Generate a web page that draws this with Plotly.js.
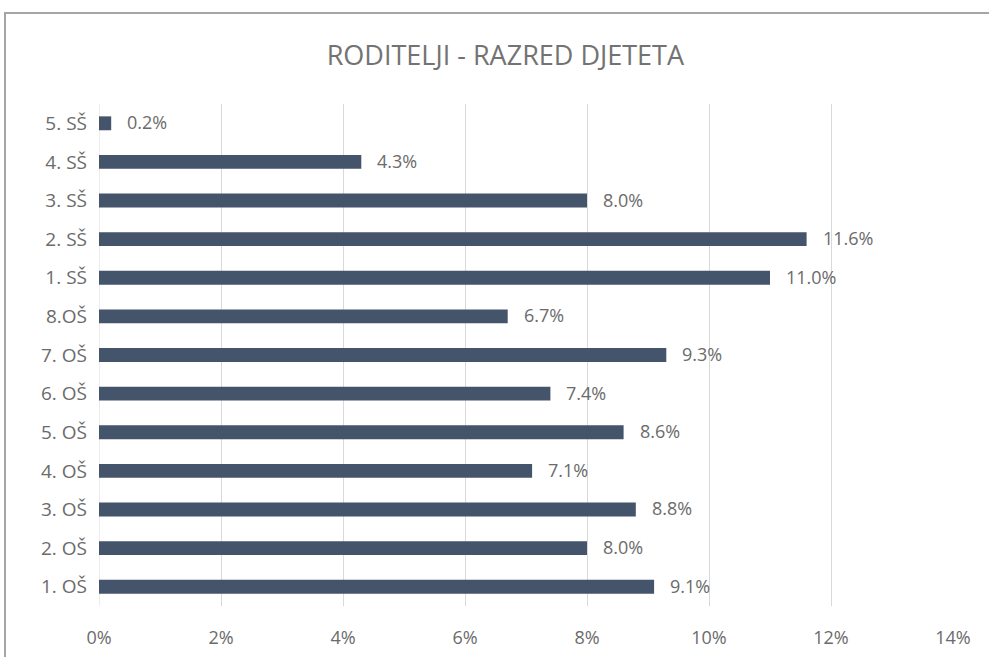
<!DOCTYPE html>
<html>
<head>
<meta charset="utf-8">
<script src="https://cdn.plot.ly/plotly-3.0.1.min.js"></script>
<style>
html,body{margin:0;padding:0;background:#fff;}
#frame{position:absolute;left:4px;top:12px;width:1000px;height:700px;border:2px solid #a5a5a5;box-sizing:border-box;}
#chart{position:absolute;left:0;top:0;width:989px;height:657px;}
</style>
</head>
<body>
<div id="frame"></div>
<div id="chart"></div>
<script>
const categories = ["1. OŠ","2. OŠ","3. OŠ","4. OŠ","5. OŠ","6. OŠ","7. OŠ","8.OŠ","1. SŠ","2. SŠ","3. SŠ","4. SŠ","5. SŠ"];
const values = [9.1, 8.0, 8.8, 7.1, 8.6, 7.4, 9.3, 6.7, 11.0, 11.6, 8.0, 4.3, 0.2];
const tickVals = [0,2,4,6,8,10,12,14];
const tickText = ["0%","2%","4%","6%","8%","10%","12%","14%"];
const chartTitle = "RODITELJI - RAZRED DJETETA";

const font = "'Open Sans', sans-serif";
const grey = "#6b6b6b";

const annotations = values.map((v,i)=>({
  x: v, y: categories[i], xref:"x", yref:"y",
  text: v.toFixed(1)+"%", showarrow:false, xanchor:"left", yanchor:"middle",
  xshift: 14, yshift: 1, font:{family:font, size:18, color:grey}
}));

Plotly.newPlot("chart", [{
  type:"bar", orientation:"h",
  x: values, y: categories,
  marker:{color:"#44546a"},
  hoverinfo:"none"
}], {
  width:989, height:657,
  paper_bgcolor:"rgba(0,0,0,0)", plot_bgcolor:"rgba(0,0,0,0)",
  margin:{l:99, r:36, t:104, b:51},
  bargap:0.64,
  showlegend:false,
  title:{text:chartTitle, x:0.511, xanchor:"center", y:0.916, yanchor:"middle",
         font:{family:font, size:27, color:"#737373"}},
  xaxis:{range:[0,14], tickvals:tickVals, ticktext:tickText, showgrid:true,
         gridcolor:"#d9d9d9", gridwidth:1, zeroline:false, showline:false,
         ticks:"", ticklabelstandoff:19,
         tickfont:{family:font, size:18, color:grey}, fixedrange:true},
  yaxis:{type:"category", categoryorder:"array", categoryarray:categories,
         range:[-0.5,12.5], showgrid:false, zeroline:false, showline:false,
         ticks:"", ticklabelstandoff:11,
         tickfont:{family:font, size:19, color:grey}, fixedrange:true},
  shapes:[{type:"line", xref:"x", yref:"paper", x0:0, x1:0, y0:0, y1:1,
           line:{color:"#d9d9d9", width:1}, layer:"below"}],
  annotations: annotations
}, {staticPlot:true});
</script>
</body>
</html>
